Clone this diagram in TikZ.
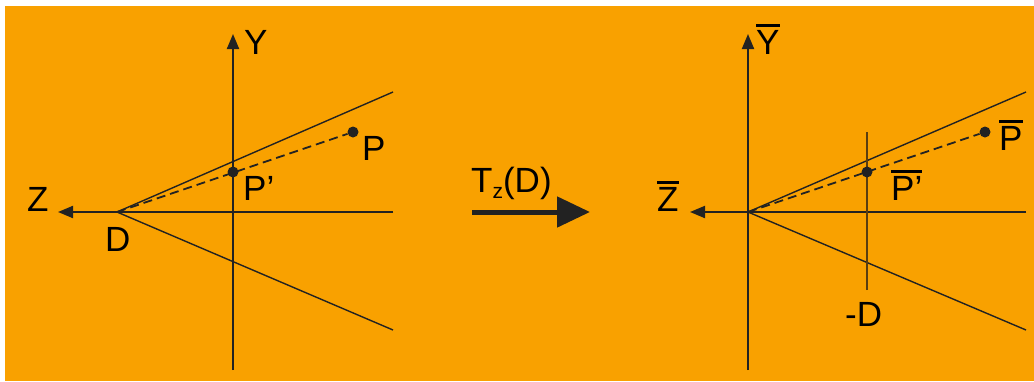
\documentclass[tikz,border=0pt]{standalone}
\usepackage{fontspec}
\setmainfont{Liberation Sans}
\usepackage{xcolor}
\usetikzlibrary{arrows.meta}

\definecolor{bgorange}{HTML}{F9A100}
\definecolor{ink}{HTML}{222222}
\definecolor{inkbrown}{HTML}{5A3E10}

% bar over a label
\newcommand{\barlbl}[1]{\vbox{\hrule height 3.5pt\kern 2.5pt\hbox{#1}}}

\begin{document}
\begin{tikzpicture}[
  x=1pt, y=-1pt,
  font=\fontsize{35}{40}\selectfont,
  axis/.style={-{Triangle[length=15pt, width=12pt]}, line width=2pt, ink},
  ray/.style={line width=1.4pt, ink},
  proj/.style={line width=1.8pt, ink, dash pattern=on 9pt off 5pt},
  dot/.style={circle, fill=ink, inner sep=0pt, minimum size=11pt},
  lbl/.style={anchor=base west, inner sep=0pt, text=black},
  bigarr/.style={-{Triangle[length=33pt, width=30pt]}, line width=5pt, ink}
]
\useasboundingbox (0,0) rectangle (1034,381);
\fill[bgorange] (5,6) rectangle (1034,381);

% --- left: before the shift ---
\coordinate (D)     at (117,212);
\coordinate (ybot)  at (233,370);
\coordinate (ytop)  at (233,34);
\coordinate (zbeg)  at (393,212);
\coordinate (zend)  at (58,212);
\coordinate (upL)   at (393,92);
\coordinate (loL)   at (393,330);

\draw[axis] (ybot) -- (ytop);
\draw[axis] (zbeg) -- (zend);
\draw[ray] (D) -- (upL);
\draw[ray] (D) -- (loL);

\node[dot] (P)  at (353,132) {};
\node[dot] (Pp) at (233,172) {};
\draw[proj] (D) -- (P);

\node[lbl] (lY)  at (244,54)  {Y};
\node[lbl] (lZ)  at (27,211)  {Z};
\node[lbl] (lD)  at (105,251) {D};
\node[lbl] (lP)  at (362,160) {P};
\node[lbl] (lPp) at (243,200) {P'};

% --- middle: the transform ---
\coordinate (tbeg) at (472,212);
\coordinate (tend) at (590,212);
\draw[bigarr] (tbeg) -- (tend);
\node[lbl] (lT) at (471,192) {T\raisebox{-6pt}{\fontsize{21}{21}\selectfont z}(D)};

% --- right: after the shift ---
\coordinate (O)     at (748,212);
\coordinate (ybotR) at (748,370);
\coordinate (ytopR) at (748,34);
\coordinate (zbegR) at (1026,212);
\coordinate (zendR) at (690,212);
\coordinate (upR)   at (1026,92);
\coordinate (loR)   at (1026,330);
\coordinate (vtop)  at (867,132);
\coordinate (vbot)  at (867,290);

\draw[axis] (ybotR) -- (ytopR);
\draw[axis] (zbegR) -- (zendR);
\draw[ray] (O) -- (upR);
\draw[ray] (O) -- (loR);
\draw[line width=1.3pt, inkbrown] (vbot) -- (vtop);

\node[dot] (Pb)  at (985,132) {};
\node[dot] (Pbp) at (867,172) {};
\draw[proj] (O) -- (Pb);

\node[lbl] (lYb)  at (756,54)  {\barlbl{Y}};
\node[lbl] (lZb)  at (657,211) {\barlbl{Z}};
\node[lbl] (lmD)  at (845,326) {-D};
\node[lbl] (lPb)  at (999,150) {\barlbl{P}};
\node[lbl] (lPbp) at (891,200) {\barlbl{P'}};

\end{tikzpicture}
\end{document}
